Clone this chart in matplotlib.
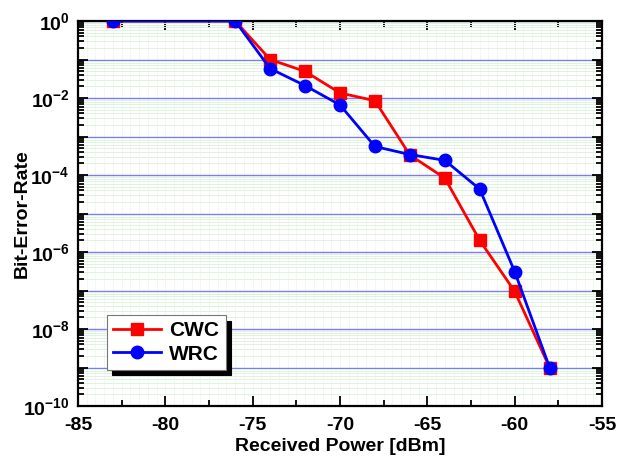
import matplotlib
matplotlib.use("Agg")
import matplotlib.pyplot as plt
from matplotlib.ticker import LogLocator, MultipleLocator
import numpy as np

plt.rcParams['font.family'] = ['Liberation Sans', 'DejaVu Sans']
plt.rcParams['font.weight'] = 'bold'
plt.rcParams['axes.unicode_minus'] = False
plt.rcParams['mathtext.fontset'] = 'custom'
plt.rcParams['mathtext.bf'] = 'Liberation Sans:bold'
plt.rcParams['mathtext.rm'] = 'Liberation Sans:bold'
plt.rcParams['mathtext.default'] = 'bf'

power = [-83, -76, -74, -72, -70, -68, -66, -64, -62, -60, -58]
ber_cwc = [1.0, 1.0, 1.0e-1, 4.9e-2, 1.35e-2, 8.5e-3, 3.3e-4, 8.3e-5, 2.0e-6, 9.5e-8, 1.0e-9]
ber_wrc = [1.0, 1.0, 5.8e-2, 2.1e-2, 6.6e-3, 5.5e-4, 3.4e-4, 2.4e-4, 4.3e-5, 3.1e-7, 1.0e-9]


def decade_label(v, pos):
    e = int(round(np.log10(v)))
    if e % 2:
        return ''
    return '$10^{%d}$' % e


def main():
    fig = plt.figure(figsize=(6.19, 4.62), dpi=100)
    ax = fig.add_axes([78 / 619, 56 / 462, 524 / 619, 385 / 462])

    ax.set_yscale('log')
    ax.set_xlim(-85, -55)
    ax.set_ylim(1e-10, 1)

    # faint green minor grid
    for xv in np.arange(-85, -55, 0.5):
        ax.axvline(xv, color='#eef9ee', lw=0.6, zorder=0)
    ax.yaxis.set_minor_locator(LogLocator(base=10, subs=np.arange(2, 10), numticks=20))
    ax.yaxis.set_major_locator(LogLocator(base=10, numticks=20))
    ax.grid(True, which='minor', axis='y', color='#dff3df', lw=0.7)
    ax.grid(True, which='major', axis='y', color='#7b7bff', lw=1.0)
    ax.set_axisbelow(True)

    ax.plot(power, ber_cwc, color='red', lw=2, marker='s', ms=8, label='CWC', zorder=3)
    ax.plot(power, ber_wrc, color='blue', lw=2, marker='o', ms=9, label='WRC', zorder=4)

    ax.xaxis.set_major_locator(MultipleLocator(5))
    ax.xaxis.set_minor_locator(MultipleLocator(2.5))
    ax.yaxis.set_major_formatter(decade_label)
    ax.tick_params(which='both', direction='in', top=True, right=True, labelsize=14, width=1.3)
    ax.tick_params(which='major', length=7)
    ax.tick_params(which='minor', length=4)
    ax.tick_params(axis='x', pad=8)
    ax.tick_params(axis='y', pad=6)
    for s in ax.spines.values():
        s.set_linewidth(1.6)

    ax.set_xlabel('Received Power [dBm]', fontsize=14, fontweight='bold', labelpad=3)
    ax.set_ylabel('Bit-Error-Rate', fontsize=14, fontweight='bold')
    ax.yaxis.set_label_coords(-0.09, 0.5)

    leg = ax.legend(loc='lower left', bbox_to_anchor=(0.055, 0.094), fontsize=15,
                    fancybox=False, shadow={'color': 'black', 'alpha': 1, 'ox': 4, 'oy': -4},
                    edgecolor='#777777', framealpha=1, handlelength=2.3,
                    borderpad=0.3, labelspacing=0.2, handletextpad=0.4,
                    borderaxespad=0)
    leg.get_frame().set_linewidth(0.8)

    fig.savefig('out.png', dpi=100)


if __name__ == "__main__":
    main()
